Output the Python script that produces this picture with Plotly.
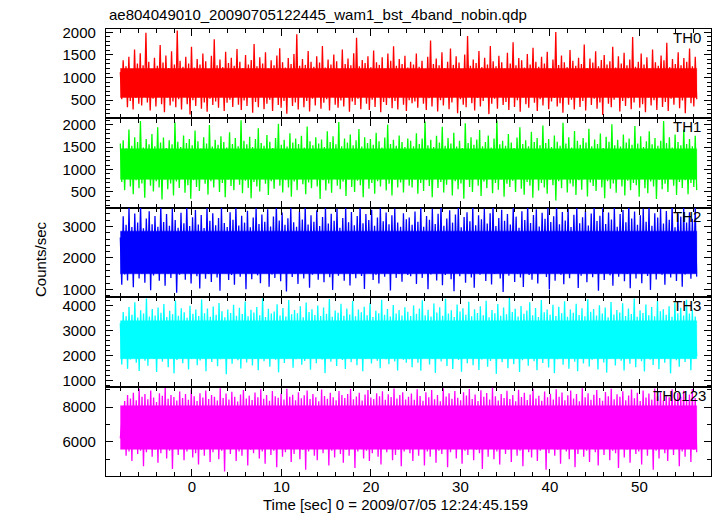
import numpy as np
import plotly.graph_objects as go
from plotly.subplots import make_subplots

# ---------------- data ----------------
t_start = -8.0
t_end = 56.4

th0_a = [1120, 520, 1380, 610, 1250, 340, 1460, 480, 1190, 290, 1620, 550, 1310, 420, 1540, 380, 1270, 610, 1990, 450,
         1350, 270, 1180, 530, 1440, 360, 1260, 590, 1720, 410, 1330, 230, 1490, 560, 1210, 380, 1580, 470, 1290, 340,
         2040, 520, 1370, 290, 1240, 600, 1460, 410, 1310, 180, 1680, 500, 1220, 370, 1410, 560, 1290, 310, 1530, 450,
         1360, 240, 1190, 530, 1480, 390, 1850, 470, 1270, 330, 1400, 580, 1230, 260, 1570, 440, 1320, 510, 1440, 350,
         1260, 620, 1630, 400, 1350, 280, 1210, 490, 1500, 370, 1290, 560, 1390, 220, 1740, 460, 1250, 340, 1450, 590,
         1310, 300, 1560, 420, 1200, 510, 1380, 260, 1270, 570, 1490, 390, 1650, 330, 1340, 480, 1220, 200, 1430, 550,
         1300, 370, 1520, 450, 1960, 290, 1260, 600, 1410, 340, 1280, 480, 1590, 250, 1350, 530, 1240, 380, 1470, 600,
         1330, 310, 1700, 440, 1220, 520, 1400, 270, 1290, 580, 1510, 400, 1360, 330, 1190, 490, 1620, 360, 1300, 560,
         1420, 240, 1270, 470, 1540, 390, 1880, 530, 1250, 300, 1390, 600, 1320, 420, 1470, 280, 1230, 510, 1600, 350,
         1340, 580, 1280, 230, 1450, 460, 1200, 390, 1530, 540, 1370, 320, 1690, 480, 1260, 290, 1410, 570, 1300, 400,
         1480, 260, 1220, 500, 1350, 430]
th0_b = [1290, 470, 1530, 330, 1240, 590, 1370, 420, 1180, 280, 1460, 540, 1820, 360, 1300, 610, 1420, 250, 1270, 500,
         1560, 380, 1210, 560, 1350, 300, 1640, 450, 1280, 590, 1470, 210, 1330, 520, 1190, 400, 1510, 340, 1920, 580,
         1260, 430, 1400, 270, 1320, 550, 1590, 360, 1230, 480, 1440, 600, 1290, 190, 1700, 420, 1360, 530, 1250, 310,
         1480, 570, 1340, 390, 1200, 460, 1550, 280, 1310, 610, 1780, 350, 1270, 500, 1430, 240, 1380, 560, 1220, 410,
         1520, 330, 1290, 590, 1660, 440, 1350, 260, 1240, 520, 1460, 380, 1310, 600, 1570, 300, 1200, 470, 1400, 550,
         2010, 360, 1280, 430, 1490, 220, 1340, 580, 1230, 400, 1610, 510, 1370, 290, 1260, 560, 1440, 350, 1300, 480,
         1730, 270, 1210, 600, 1420, 390, 1330, 530, 1580, 310, 1250, 450, 1390, 170, 1500, 570, 1290, 420, 1360, 340,
         1680, 510, 1220, 600, 1470, 250, 1310, 480, 1550, 370, 1270, 540, 1400, 300, 1900, 450, 1240, 590, 1350, 330,
         1530, 410, 1290, 230, 1450, 560, 1200, 380, 1620, 500, 1340, 280, 1260, 610, 1490, 350, 1380, 460, 1770, 260,
         1230, 530, 1410, 400, 1300, 570, 1560, 320, 1270, 490, 1430, 210, 1350, 580, 1640, 430, 1250, 360, 1460, 520]

th1_a = [1580, 720, 1650, 540, 1470, 810, 1890, 620, 1530, 450, 1720, 760, 1610, 580, 2080, 690, 1490, 370, 1680, 800,
         1560, 640, 1790, 510, 1520, 740, 1940, 600, 1600, 330, 1710, 780, 1480, 560, 1650, 690, 1560, 420, 2050, 730,
         1620, 590, 1500, 810, 1760, 480, 1590, 650, 1680, 350, 1540, 760, 1870, 610, 1630, 520, 1470, 790, 1720, 680,
         1580, 440, 1990, 740, 1510, 600, 1660, 820, 1550, 500, 1740, 700, 1610, 380, 1490, 770, 1830, 630, 1570, 540,
         1700, 810, 1520, 660, 2100, 470, 1640, 750, 1560, 590, 1730, 360, 1500, 720, 1680, 620, 1920, 510, 1590, 790,
         1530, 680, 1770, 430, 1620, 740, 1480, 570, 1700, 810, 2020, 640, 1550, 490, 1660, 760, 1510, 600, 1810, 390,
         1600, 730, 1690, 540, 1570, 800, 1750, 670, 1490, 450, 1960, 710, 1630, 580, 1540, 820, 1720, 620, 1580, 340,
         1670, 760, 1500, 530, 1850, 690, 1610, 480, 1740, 800, 1560, 640, 2060, 560, 1520, 730, 1690, 410, 1600, 780,
         1780, 610, 1540, 500, 1650, 750, 1900, 650, 1510, 380, 1720, 800, 1590, 570, 1680, 700, 1550, 460, 1820, 740,
         1630, 620, 1490, 790, 1710, 530, 2000, 680, 1570, 420, 1660, 770, 1530, 600, 1760, 710, 1610, 490, 1500, 780,
         1690, 640]
th1_b = [1640, 600, 1520, 780, 1810, 460, 1570, 700, 1690, 520, 2070, 760, 1540, 630, 1660, 380, 1500, 800, 1750, 590,
         1600, 720, 1950, 490, 1530, 660, 1700, 810, 1580, 420, 1820, 740, 1510, 560, 1640, 690, 1480, 350, 2030, 770,
         1590, 610, 1720, 500, 1550, 790, 1670, 640, 1880, 410, 1520, 730, 1610, 580, 1760, 820, 1490, 470, 1690, 700,
         2090, 550, 1560, 780, 1640, 390, 1530, 680, 1790, 610, 1600, 750, 1480, 500, 1710, 820, 1940, 570, 1570, 440,
         1650, 720, 1520, 640, 1840, 370, 1610, 790, 1700, 530, 1540, 700, 1980, 600, 1590, 460, 1680, 770, 1500, 650,
         1760, 310, 1620, 740, 1530, 580, 2040, 810, 1580, 490, 1720, 690, 1490, 620, 1860, 430, 1640, 760, 1550, 550,
         1700, 800, 1600, 400, 1910, 710, 1520, 630, 1670, 520, 1570, 780, 1800, 600, 1480, 360, 1730, 740, 1620, 570,
         2010, 690, 1540, 480, 1660, 810, 1510, 620, 1780, 420, 1600, 750, 1690, 540, 1550, 700, 1970, 650, 1580, 390,
         1740, 790, 1500, 580, 1630, 470, 1850, 730, 1560, 620, 1700, 340, 1530, 770, 1640, 560, 2080, 680, 1590, 500,
         1720, 810, 1490, 640, 1780, 430, 1610, 720, 1540, 590, 1890, 760, 1570, 450, 1680, 700, 1520, 610, 1750, 540]

th2_a = [2650, 1150, 3320, 1480, 3050, 1290, 3600, 1560, 2980, 1070, 3410, 1630, 3120, 1350, 3700, 1500, 2940, 1220, 3250, 1600,
         3480, 980, 3070, 1450, 3330, 1560, 2990, 1280, 3650, 1620, 3140, 1120, 3390, 1510, 3020, 1370, 3560, 1590, 3200, 900,
         2960, 1470, 3430, 1640, 3100, 1310, 3680, 1540, 3010, 1190, 3290, 1600, 3520, 1420, 3060, 1030, 3360, 1570, 2950, 1340,
         3620, 1490, 3180, 1240, 3420, 1650, 3040, 1380, 3270, 960, 3590, 1530, 3110, 1610, 2980, 1300, 3450, 1460, 3210, 1150,
         3660, 1580, 3030, 1410, 3340, 1620, 3120, 1010, 3500, 1520, 2970, 1330, 3280, 1600, 3600, 1450, 3080, 1200, 3380, 1560,
         3150, 1640, 3540, 1090, 3000, 1480, 3310, 1370, 3690, 1590, 3190, 1260, 3440, 1530, 3050, 940, 3260, 1610, 3580, 1400,
         3130, 1500, 2990, 1180, 3470, 1630, 3220, 1350, 3640, 1550, 3060, 1060, 3350, 1470, 3150, 1600, 3510, 1310, 3010, 1540,
         3300, 1230, 3620, 1640, 3090, 1390, 3400, 990, 3180, 1580, 3560, 1440, 2960, 1520, 3270, 1280, 3600, 1610, 3130, 1130,
         3460, 1490, 3040, 1360, 3330, 1590, 3680, 1430, 3100, 1020, 3390, 1560, 3200, 1630, 3530, 1300, 3020, 1470, 3280, 1190,
         3610, 1580, 3160, 1410, 3440, 1540, 3070, 970, 3350, 1620, 3570, 1370, 3120, 1500, 2990, 1250, 3420, 1600, 3230, 1460]
th2_b = [3280, 1420, 3050, 1590, 3470, 1180, 3150, 1530, 3620, 1370, 2990, 1610, 3330, 1010, 3210, 1480, 3560, 1620, 3080, 1290,
         3400, 1550, 3680, 1140, 3020, 1460, 3250, 1640, 3510, 1330, 3120, 950, 3380, 1570, 3600, 1420, 2970, 1600, 3300, 1220,
         3450, 1510, 3160, 1380, 3640, 1060, 3040, 1590, 3350, 1470, 3230, 1630, 3570, 1270, 3090, 1540, 3420, 1160, 3700, 1490,
         3010, 1610, 3270, 1350, 3530, 920, 3180, 1560, 3390, 1440, 3060, 1650, 3610, 1240, 3310, 1500, 2960, 1380, 3480, 1080,
         3200, 1600, 3660, 1460, 3110, 1310, 3360, 1580, 3540, 1190, 3000, 1520, 3430, 1640, 3240, 1400, 3590, 1000, 3140, 1550,
         3320, 1280, 3690, 1610, 3070, 1470, 3460, 1170, 3190, 1590, 3550, 1360, 2980, 1530, 3370, 1620, 3630, 1050, 3100, 1440,
         3290, 1580, 3500, 1230, 3030, 1610, 3410, 1390, 3670, 1500, 3170, 960, 3340, 1560, 3580, 1300, 3080, 1640, 3440, 1450,
         3220, 1120, 3610, 1570, 2990, 1410, 3390, 1620, 3520, 1260, 3130, 1490, 3700, 1040, 3250, 1590, 3470, 1350, 3050, 1600,
         3350, 1200, 3570, 1540, 3150, 1430, 3640, 990, 3020, 1610, 3420, 1320, 3280, 1560, 3560, 1470, 3090, 1150, 3490, 1620,
         3210, 1380, 3660, 1530, 2970, 1270, 3400, 1600, 3310, 1090, 3590, 1480, 3120, 1630, 3450, 1340, 3240, 1550, 3620, 1410]

th3_a = [3300, 1650, 3750, 1920, 3580, 1480, 3960, 1850, 3640, 2030, 4150, 1720, 3530, 1390, 3820, 1980, 3690, 1800, 4300, 1600,
         3570, 2040, 3880, 1870, 3610, 1350, 3940, 1960, 3720, 1760, 4080, 2010, 3550, 1540, 3800, 1900, 3660, 1290, 4220, 1830,
         3600, 2050, 3910, 1700, 3740, 1940, 3520, 1450, 4010, 1870, 3680, 1990, 3850, 1620, 3590, 1810, 4260, 2030, 3700, 1380,
         3900, 1920, 3560, 1750, 3980, 2000, 3640, 1580, 4120, 1860, 3780, 1970, 3540, 1250, 3860, 1900, 3710, 1680, 4050, 2040,
         3600, 1820, 3930, 1490, 3670, 1950, 4180, 1730, 3580, 2020, 3840, 1610, 3730, 1880, 3960, 1420, 3620, 1990, 4310, 1780,
         3550, 1930, 3890, 1560, 3690, 2050, 3770, 1840, 4070, 1330, 3610, 1970, 3920, 1710, 3570, 1890, 4240, 2000, 3660, 1520,
         3830, 1860, 3700, 1960, 3990, 1640, 3540, 1790, 4140, 2030, 3750, 1440, 3870, 1910, 3630, 1700, 4020, 1980, 3590, 1850,
         3940, 1300, 3680, 2010, 4280, 1760, 3560, 1900, 3810, 1590, 3720, 1970, 4090, 1830, 3600, 1470, 3900, 2040, 3650, 1740,
         4200, 1920, 3580, 1620, 3860, 1990, 3740, 1380, 3970, 1880, 3620, 2020, 4110, 1690, 3550, 1940, 3800, 1800, 3700, 1500,
         4250, 2000, 3640, 1860, 3880, 1660, 3570, 1950, 4040, 1770, 3690, 1410, 3830, 1980, 3610, 1840, 3950, 1720]
th3_b = [3760, 1860, 3590, 1540, 4020, 1990, 3680, 1720, 3900, 1400, 4230, 1930, 3620, 2040, 3840, 1650, 3570, 1880, 4100, 1310,
         3730, 1980, 3950, 1770, 3600, 2030, 4290, 1590, 3690, 1900, 3820, 1470, 3550, 1960, 4060, 1830, 3770, 1360, 3910, 2010,
         3640, 1700, 4170, 1920, 3580, 1620, 3870, 2050, 3710, 1430, 3990, 1850, 3620, 1980, 4210, 1560, 3540, 1790, 3830, 2000,
         3700, 1270, 4080, 1940, 3600, 1740, 3940, 1880, 3660, 1500, 4320, 2030, 3750, 1660, 3890, 1910, 3570, 1350, 4000, 1820,
         3680, 1990, 3810, 1600, 4150, 1950, 3620, 1780, 3920, 1420, 3550, 2040, 4240, 1710, 3740, 1890, 3860, 1530, 3640, 1970,
         4050, 1300, 3590, 1860, 3970, 2020, 3700, 1640, 4190, 1900, 3560, 1480, 3850, 1980, 3720, 1760, 4090, 1380, 3630, 2050,
         3910, 1690, 3580, 1920, 4270, 1570, 3760, 1840, 3880, 2000, 3610, 1450, 4030, 1950, 3690, 1730, 3940, 1320, 3540, 1870,
         4160, 2030, 3650, 1610, 3830, 1960, 3730, 1800, 4110, 1410, 3590, 1990, 3900, 1680, 3670, 1910, 4300, 1540, 3560, 2040,
         3820, 1780, 3710, 1370, 4060, 1930, 3620, 1850, 3960, 1630, 3580, 1990, 4200, 1460, 3780, 1880, 3870, 1720, 3640, 2010,
         3990, 1290, 3560, 1900, 4140, 1820, 3700, 1560, 3930, 2030, 3610, 1750, 4250, 1940, 3690, 1420, 3840, 1870, 3570, 1980]

th0123_a = [6200, 7100, 5600, 8350, 5200, 8700, 5450, 8500, 4900, 8820, 5600, 8400, 5300, 9050, 5500, 8600, 4600, 8750, 5400, 8450,
            5700, 8950, 5150, 8550, 5550, 8300, 4800, 8800, 5350, 8650, 5650, 9100, 5050, 8480, 5500, 8700, 4450, 8580, 5600, 8380,
            5250, 8900, 5700, 8520, 4950, 8760, 5450, 8420, 5600, 9000, 5100, 8630, 5350, 8350, 4700, 8800, 5550, 8550, 5200, 8950,
            5650, 8460, 4850, 8700, 5400, 8600, 5700, 8380, 5000, 9080, 5500, 8520, 4300, 8780, 5600, 8440, 5300, 8880, 5650, 8600,
            4900, 8320, 5450, 8720, 5200, 8990, 5600, 8500, 4650, 8660, 5550, 8410, 5350, 8840, 5700, 8570, 5050, 9020, 5450, 8480,
            4750, 8700, 5600, 8360, 5250, 8920, 5500, 8620, 4550, 8540, 5650, 8780, 5150, 8430, 5400, 9060, 5600, 8590, 4850, 8710,
            5300, 8390, 5700, 8860, 5000, 8510, 5550, 8680, 4400, 8960, 5450, 8460, 5650, 8750, 5200, 8560, 4950, 8340, 5600, 9010,
            5350, 8640, 5700, 8480, 4650, 8820, 5500, 8570, 5100, 8400, 5650, 8930, 5300, 8690, 4800, 8520, 5550, 8760, 5200, 9040,
            5600, 8450, 4500, 8610, 5450, 8830, 5700, 8380, 5050, 8720, 5500, 8990, 4900, 8550, 5350, 8470, 5650, 8800, 5150, 8630,
            4700, 8910, 5600, 8420, 5400, 8740, 5700, 8580, 4950, 9070, 5250, 8500, 5550, 8690, 4600, 8850, 5450, 8430, 5650, 8600]
th0123_b = [5350, 8780, 4900, 8420, 5600, 9030, 5200, 8640, 5700, 8370, 4650, 8850, 5450, 8560, 5150, 8990, 5650, 8450, 4800,
            8700, 5500, 8330, 5300, 9090, 5700, 8610, 4550, 8790, 5400, 8480, 5600, 8920, 5050, 8540, 5650, 8390, 4750, 8860, 5500,
            8660, 5250, 9040, 5700, 8470, 4950, 8730, 5550, 8350, 5350, 8970, 4450, 8590, 5650, 8810, 5150, 8430, 5600, 9110, 5000,
            8620, 5450, 8380, 4700, 8760, 5700, 8520, 5300, 8940, 5550, 8460, 4850, 8690, 5650, 8340, 5200, 9000, 5500, 8580, 4600,
            8830, 5700, 8410, 5400, 8720, 5100, 9060, 5600, 8500, 4900, 8650, 5500, 8360, 5650, 8900, 4400, 8560, 5350, 8770, 5700,
            8440, 5200, 9020, 5550, 8600, 4750, 8840, 5650, 8390, 5450, 8680, 5000, 8950, 5700, 8490, 4550, 8750, 5300, 8330, 5600,
            9080, 5150, 8570, 5500, 8800, 4850, 8420, 5700, 8710, 5400, 8980, 4650, 8530, 5600, 8370, 5250, 8870, 5650, 8620, 4950,
            9050, 5500, 8450, 5350, 8740, 4500, 8590, 5700, 8910, 5100, 8400, 5550, 8670, 4800, 9010, 5650, 8510, 5300, 8820, 5450,
            8350, 4700, 8960, 5600, 8550, 5200, 8780, 5700, 8430, 4400, 9070, 5500, 8640, 5050, 8860, 5650, 8380, 5350, 8700, 4900,
            8570, 5600, 9020, 5250, 8460, 5700, 8810, 4600, 8600, 5450, 8940, 5150, 8410, 5650, 8730, 4850, 9040, 5550, 8520, 5400]

# dense, unresolved core of each light curve (where samples overlap into a solid band)
core_low = [560, 780, 1500, 1880, 5580]
core_high = [1200, 1460, 2850, 3400, 8080]

series = [th0_a + th0_b, th1_a + th1_b, th2_a + th2_b, th3_a + th3_b, th0123_a + th0123_b]
names = ["TH0", "TH1", "TH2", "TH3", "TH0123"]
colors = ["#ff0000", "#00ff00", "#0000ff", "#00ffff", "#ff00ff"]
y_ranges = [[95, 2075], [146, 2139], [758, 3590], [758, 4350], [4040, 9180]]
y_dticks = [500, 500, 1000, 1000, 2000]
y_minor = [100, 100, 200, 200, 1000]
x_range = [-9.6, 58.0]

title_text = "ae804049010_20090705122445_wam1_bst_4band_nobin.qdp"
x_title = "Time [sec] 0 = 2009/07/05 12:24:45.159"
y_title = "Counts/sec"

# ---------------- figure ----------------
W, H = 717, 516
ML, MR, MT, MB = 106, 6, 29, 40
PW, PH = W - ML - MR, H - MT - MB
FONT = "Liberation Sans, Arial, sans-serif"

fig = make_subplots(rows=5, cols=1, shared_xaxes=True, vertical_spacing=0)

for i, (vals, col) in enumerate(zip(series, colors)):
    fig.add_trace(go.Scatter(x=[t_start, t_end, t_end, t_start],
                             y=[core_low[i], core_low[i], core_high[i], core_high[i]],
                             mode="lines", fill="toself", fillcolor=col,
                             line=dict(color=col, width=0.5),
                             showlegend=False, hoverinfo="skip"),
                  row=i + 1, col=1)
    x = np.linspace(t_start, t_end, len(vals))
    fig.add_trace(go.Scatter(x=x, y=vals, mode="lines",
                             line=dict(color=col, width=1.3),
                             showlegend=False, hoverinfo="skip"),
                  row=i + 1, col=1)

axis_common = dict(showline=True, linecolor="black", linewidth=1.3, mirror="allticks",
                   ticks="inside", ticklen=7, tickwidth=1, tickcolor="black",
                   showgrid=False, zeroline=False, automargin=False,
                   tickfont=dict(family=FONT, size=15, color="black"))

for i in range(5):
    fig.update_yaxes(range=y_ranges[i], dtick=y_dticks[i], tick0=0,
                     minor=dict(ticks="inside", ticklen=4, dtick=y_minor[i], tick0=0,
                                tickcolor="black", showgrid=False),
                     ticklabelstandoff=6,
                     **axis_common, row=i + 1, col=1)
    fig.update_xaxes(range=x_range, dtick=10, tick0=0,
                     minor=dict(ticks="inside", ticklen=4, dtick=2, tick0=0,
                                tickcolor="black", showgrid=False),
                     showticklabels=(i == 4), ticklabelstandoff=-3,
                     **axis_common, row=i + 1, col=1)

def px(xp):
    return (xp - ML) / PW

def py(yp):
    return (H - MB - yp) / PH

annotations = [
    dict(text=title_text, x=px(107), y=py(15), xanchor="left", yanchor="middle"),
    dict(text=x_title, x=px(395), y=py(504), xanchor="center", yanchor="middle"),
    dict(text=y_title, x=px(40), y=py(259), xanchor="center", yanchor="middle", textangle=-90),
]
panel_h = PH / 5
label_right = [703, 703, 703, 703, 708]
for i, name in enumerate(names):
    ytop = MT + i * panel_h
    annotations.append(dict(text=name, x=px(label_right[i]), y=py(ytop + 8.5),
                            xanchor="right", yanchor="middle"))

for a in annotations:
    a.update(xref="paper", yref="paper", showarrow=False,
             font=dict(family=FONT, size=15, color="black"))

fig.update_layout(template="none", width=W, height=H,
                  margin=dict(l=ML, r=MR, t=MT, b=MB, pad=0, autoexpand=False),
                  paper_bgcolor="white", plot_bgcolor="white",
                  annotations=annotations, showlegend=False)

fig.write_html("out.html", config={"displayModeBar": False},
               post_script="document.body.style.margin='0px';document.body.style.overflow='hidden';")
